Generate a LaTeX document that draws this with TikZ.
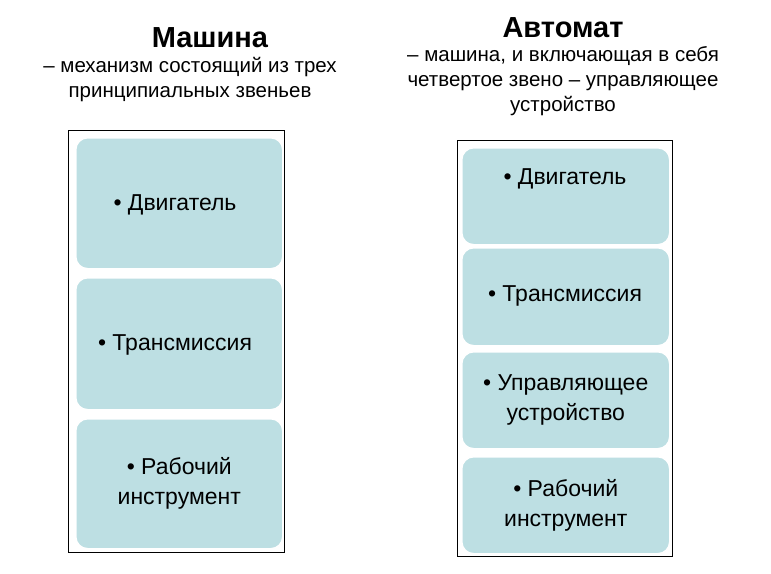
\documentclass[tikz,border=0pt]{standalone}
\usepackage{fontspec}
\setmainfont{Liberation Sans}
\begin{document}
\begin{tikzpicture}[x=1pt,y=-1pt,
  cell/.style={draw=white,line width=1.5pt,fill=boxblue,rounded corners=12pt,anchor=north west,inner sep=0pt,align=center,font=\fontsize{23}{30}\selectfont},
  frame/.style={draw=black,line width=0.6pt,anchor=north west,inner sep=0pt},
  lab/.style={font=\fontsize{23}{30}\selectfont},
  head/.style={font=\bfseries\fontsize{29}{34}\selectfont},
  sub/.style={font=\fontsize{20.5}{25}\selectfont,align=center}]
\definecolor{boxblue}{HTML}{BDDFE3}
\useasboundingbox (0,0) rectangle (771,573);
\node[frame,minimum width=216pt,minimum height=422pt] (lf) at (68,130) {};
\node[frame,minimum width=215pt,minimum height=416pt] (rf) at (457,140) {};
\node[cell,minimum width=207pt,minimum height=131pt] (l1) at (75,137) {};
\node[lab] (t1) at (175,205) {• Двигатель};
\node[cell,minimum width=207pt,minimum height=132pt] (l2) at (75,277) {};
\node[lab] (t2) at (175,345) {• Трансмиссия};
\node[cell,minimum width=207pt,minimum height=130pt] (l3) at (75,418) {• Рабочий\\инструмент};
\node[cell,minimum width=208pt,minimum height=97pt] (r1) at (461,147) {};
\node[lab] (t3) at (565,179) {• Двигатель};
\node[cell,minimum width=208pt,minimum height=98pt] (r2) at (461,247) {};
\node[lab] (t4) at (565,296) {• Трансмиссия};
\node[cell,minimum width=208pt,minimum height=97pt] (r3) at (461,351) {• Управляющее\\устройство};
\node[cell,minimum width=208pt,minimum height=97pt] (r4) at (461,456) {• Рабочий\\инструмент};
\node[head] (h1) at (210,38) {Машина};
\node[sub] (s1) at (190,80) {– механизм состоящий из трех\\принципиальных звеньев};
\node[head] (h2) at (563,28) {Автомат};
\node[sub] (s2) at (563,81) {– машина,  и включающая в себя\\четвертое звено – управляющее\\устройство};
\end{tikzpicture}
\end{document}
